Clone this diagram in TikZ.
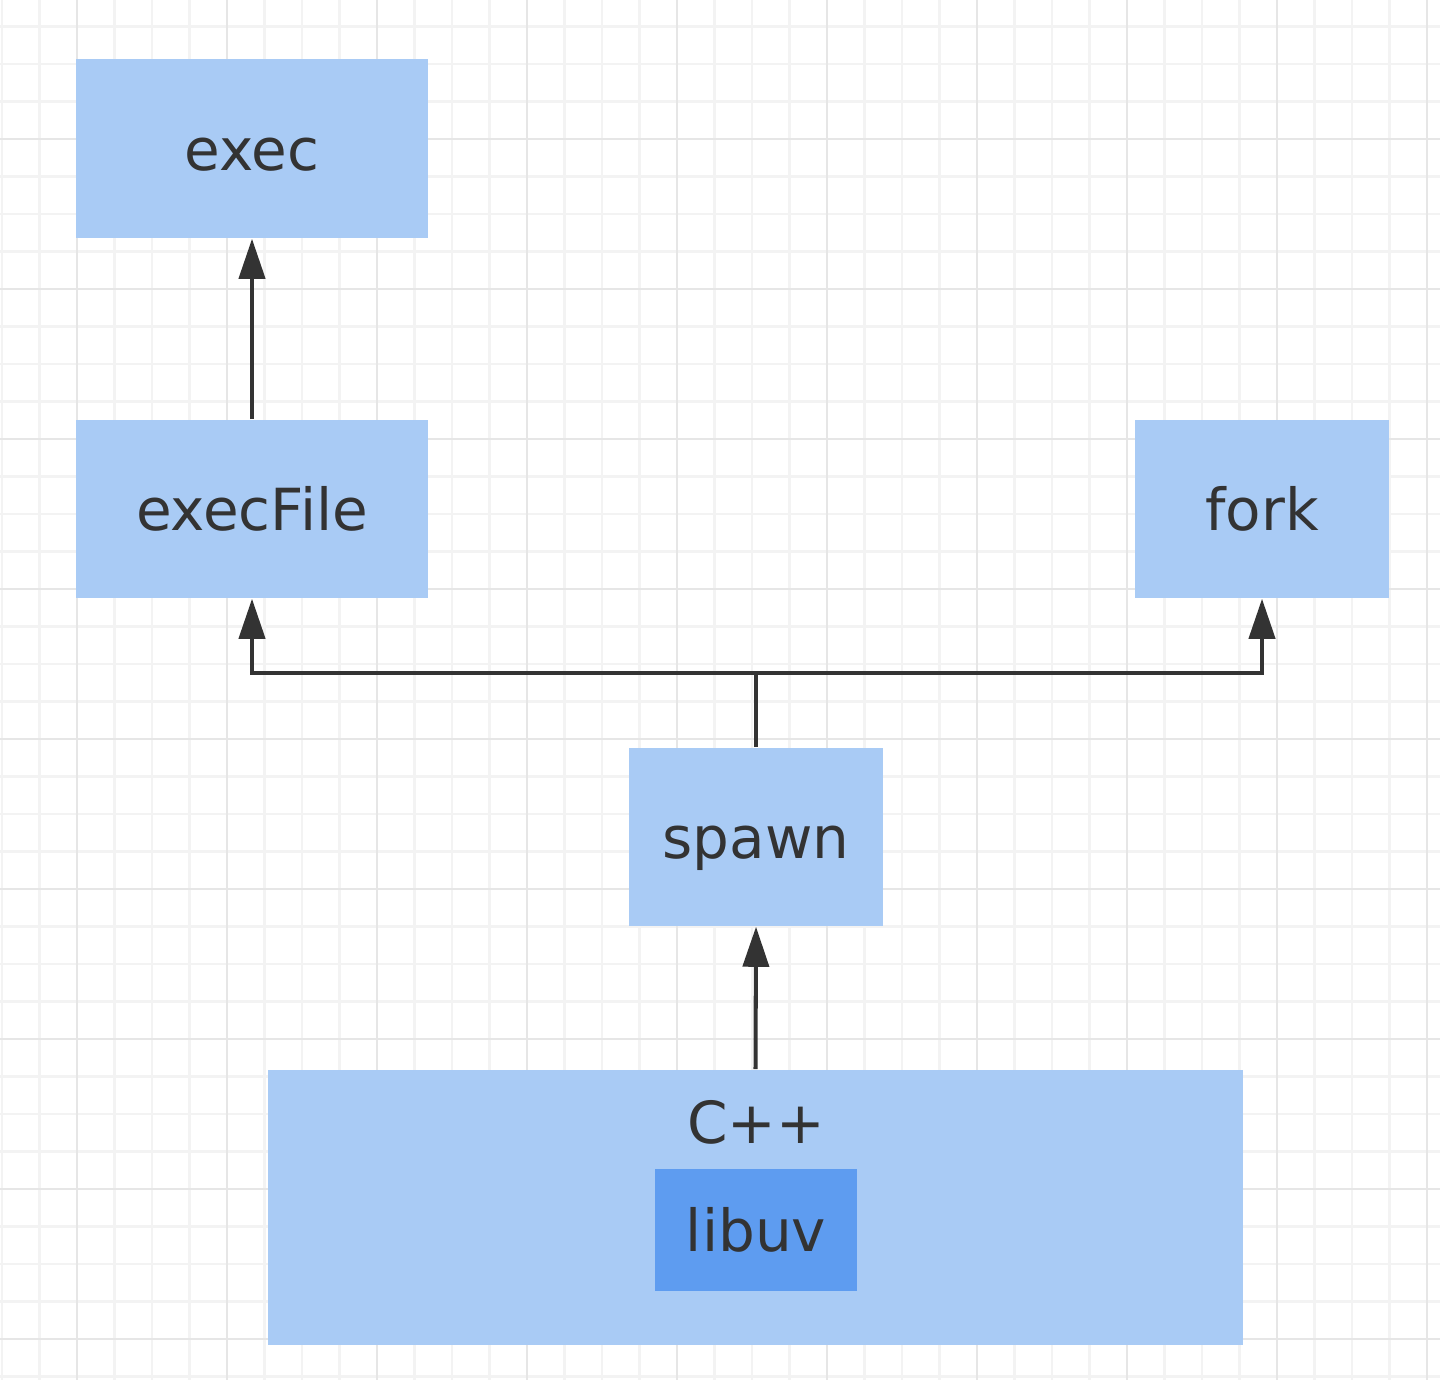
\documentclass[tikz,border=0pt]{standalone}
\usepackage{fontspec}
\setmainfont{DejaVu Sans}
\usetikzlibrary{arrows.meta}
\definecolor{boxblue}{HTML}{A9CBF5}
\definecolor{libblue}{HTML}{5E9CF0}
\definecolor{inkgray}{HTML}{333333}
\definecolor{minorgrid}{HTML}{F3F3F3}
\definecolor{majorgrid}{HTML}{E6E6E6}
\tikzset{
  minorline/.style={draw=minorgrid, line width=0.6pt},
  majorline/.style={draw=majorgrid, line width=0.8pt},
  caption/.style={text=inkgray, inner sep=0pt, text height=12.5pt, text depth=0pt,
    font=\fontsize{16.5}{19}\selectfont},
  block/.style={caption, fill=boxblue},
  libblock/.style={block, fill=libblue},
  conn/.style={draw=inkgray, line width=1.15pt, -{Triangle[length=0.4cm, width=0.26cm]}}
}
\begin{document}
\begin{tikzpicture}[x=0.01cm, y=-0.01cm]
\fill[white] (0,0) rectangle (1440,1380);
\useasboundingbox (0,0) rectangle (1440,1380);
% grid
\foreach \k in {0,...,38} \draw[minorline] ({2+37.5*\k},0) -- ({2+37.5*\k},1380);
\foreach \k in {0,...,36} \draw[minorline] (0,{26.5+37.5*\k}) -- (1440,{26.5+37.5*\k});
\foreach \k in {0,...,9} \draw[majorline] ({77+150*\k},0) -- ({77+150*\k},1380);
\foreach \k in {0,...,8} \draw[majorline] (0,{139+150*\k}) -- (1440,{139+150*\k});

\node[block, minimum width=3.52cm, minimum height=1.79cm] (exec) at (252,148.5) {exec};
\node[block, minimum width=3.52cm, minimum height=1.78cm] (execFile) at (252,509) {execFile};
\node[block, minimum width=2.54cm, minimum height=1.78cm] (fork) at (1262,509) {fork};
\node[block, minimum width=2.54cm, minimum height=1.78cm] (spawn) at (756,837) {spawn};
\node[block, minimum width=9.75cm, minimum height=2.75cm] (cpp) at (755.5,1207.5) {};
\node[caption] (cpplabel) at (756,1122) {C++};
\node[libblock, minimum width=2.02cm, minimum height=1.22cm] (libuv) at (756,1230) {libuv};

\coordinate (split) at (756,673);
\draw[conn] (execFile.north) -- (exec.south);
\draw[conn] (spawn.north) -- (split) -| (execFile.south);
\draw[conn] (split) -| (fork.south);
\draw[conn] (cpp.north) -- (spawn.south);
\end{tikzpicture}
\end{document}
